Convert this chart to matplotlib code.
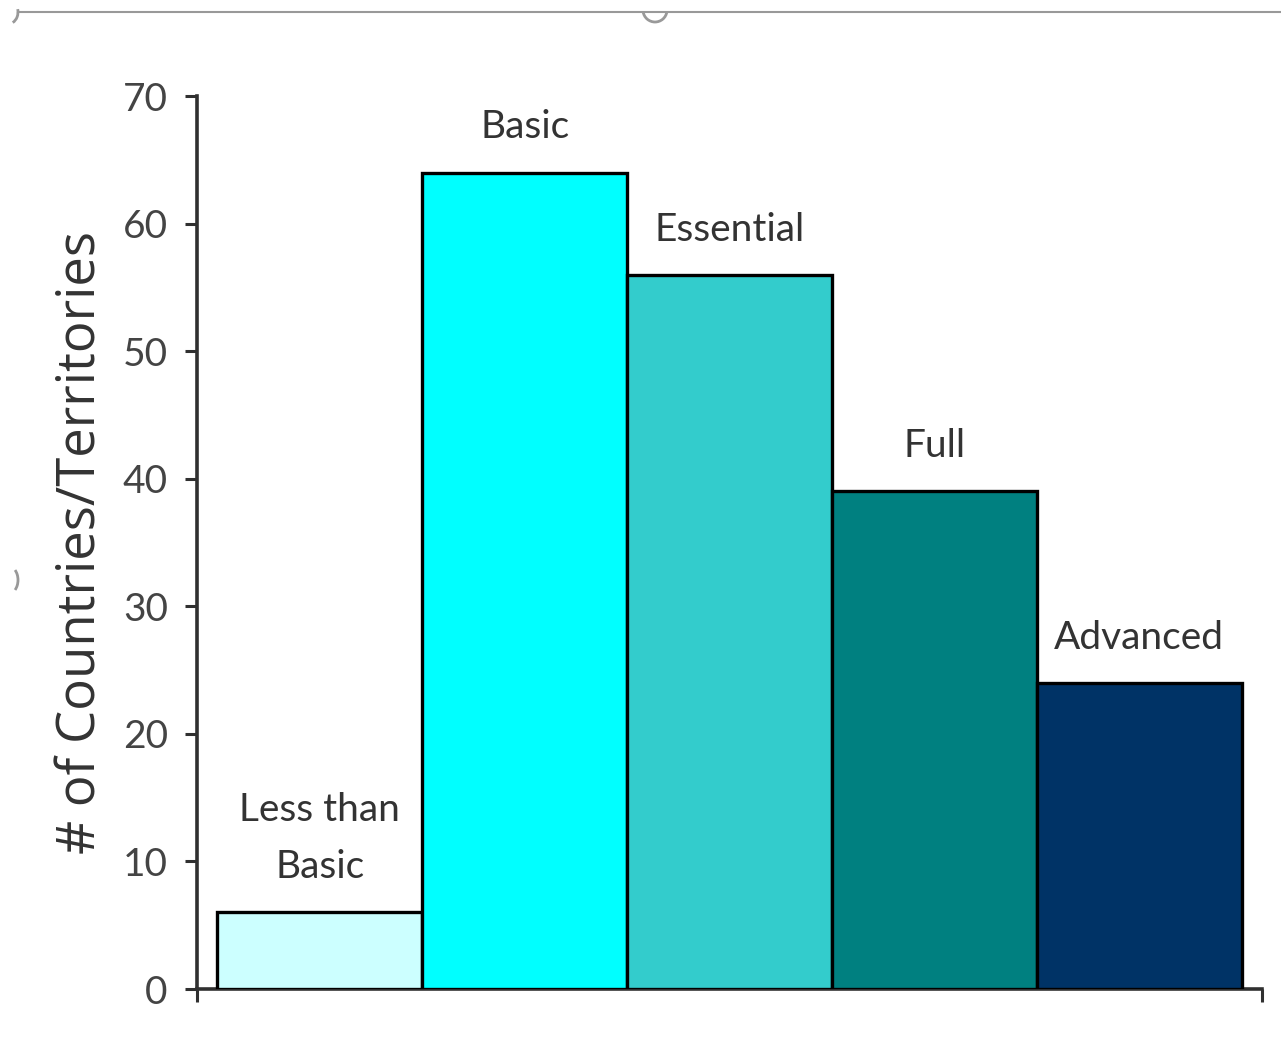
import numpy as np
import matplotlib
matplotlib.use('Agg')
import matplotlib.pyplot as plt
from matplotlib.lines import Line2D
from matplotlib.patches import Arc

# data
levels = ['Less than\nBasic', 'Basic', 'Essential', 'Full', 'Advanced']
counts = [6, 64, 56, 39, 24]
colours = ['#CCFFFF', '#00FFFF', '#33CCCC', '#008080', '#003366']
yticks = [0, 10, 20, 30, 40, 50, 60, 70]

txt_col = '#333333'

fig = plt.figure(figsize=(12.81, 10.43), dpi=100)
ax = fig.add_axes([197/1281, 1 - 989/1043, (1262 - 197)/1281, (989 - 96)/1043])

x = np.arange(len(levels))
ax.bar(x, counts, width=1.0, color=colours, edgecolor='black', linewidth=2.4, zorder=3)

for xi, c, lab in zip(x, counts, levels):
  ax.annotate(lab, (xi, c), xytext=(0, 19.5), textcoords='offset points',
              ha='center', va='bottom', fontsize=28, family='Lato',
              color=txt_col, linespacing=1.75)

ax.set_xlim(-0.6, len(levels) - 0.4)
ax.set_ylim(0, 70)
ax.set_yticks(yticks)
ax.set_xticks([-0.6, len(levels) - 0.4])
ax.set_xticklabels([])
ax.tick_params(axis='y', direction='out', length=9, width=2.2, color='#303030',
               labelsize=28, labelcolor='#444444', pad=12)
ax.tick_params(axis='x', direction='out', length=9, width=2.2, color='#303030')
for lbl in ax.get_yticklabels():
  lbl.set_family('Lato')

for s in ['top', 'right']:
  ax.spines[s].set_visible(False)
for s in ['left', 'bottom']:
  ax.spines[s].set_linewidth(2.6)
  ax.spines[s].set_color('#303030')

ax.set_ylabel('# of Countries/Territories', fontsize=38, family='Open Sans',
              color=txt_col, labelpad=10)

# the resize frame seen at the top edge of the screenshot
fig.add_artist(Line2D([18/1281, 1], [1 - 12/1043, 1 - 12/1043],
                      color='#999999', lw=1.5, transform=fig.transFigure))
fig.add_artist(Arc((655/1281, 1 - 10/1043), 24/1281, 24/1043, theta1=190, theta2=350,
                   color='#999999', lw=2, transform=fig.transFigure))
fig.add_artist(Arc((8/1281, 1 - 12/1043), 20/1281, 24/1043, theta1=290, theta2=20,
                   color='#999999', lw=2, transform=fig.transFigure))
fig.add_artist(Arc((8/1281, 1 - 580/1043), 20/1281, 28/1043, theta1=300, theta2=60,
                   color='#999999', lw=2, transform=fig.transFigure))

fig.savefig('out.png', dpi=100, facecolor='white')
